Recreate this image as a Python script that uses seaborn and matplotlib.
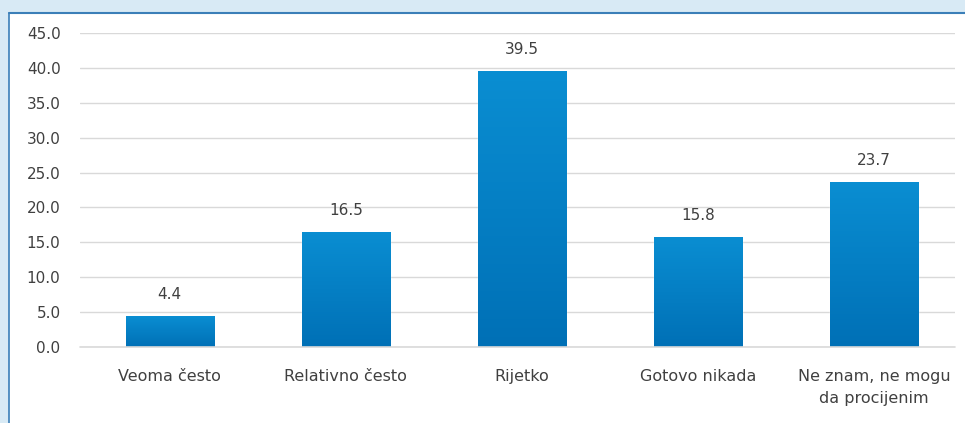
import matplotlib
matplotlib.use("Agg")
import matplotlib.pyplot as plt
import seaborn as sns
import pandas as pd
import numpy as np
from matplotlib.patches import Rectangle
from matplotlib.colors import LinearSegmentedColormap

categories = ["Veoma često", "Relativno često", "Rijetko", "Gotovo nikada", "Ne znam, ne mogu\nda procijenim"]
values = [4.4, 16.5, 39.5, 15.8, 23.7]
yticks = [0, 5, 10, 15, 20, 25, 30, 35, 40, 45]

sns.set_theme(style="white")
plt.rcParams['font.family'] = ['DejaVu Sans']

df = pd.DataFrame({"cat": categories, "val": values})

fig = plt.figure(figsize=(9.65, 4.23), dpi=100)
fig.patch.set_facecolor("#d8eaf5")

# white panel as background axes
px0 = 9 / 965
py1 = (423 - 13) / 423
bg = fig.add_axes([0, 0, 1, 1], zorder=-5)
bg.set_xlim(0, 1)
bg.set_ylim(0, 1)
bg.axis("off")
bg.add_patch(Rectangle((px0, 0), 1 - px0, py1, facecolor="white", edgecolor="none"))
bg.plot([px0, 1], [py1, py1], color="#3b7fb8", lw=1.5)
bg.plot([px0, px0], [0, py1], color="#3b7fb8", lw=1.2)

ax = fig.add_axes([80 / 965, (423 - 347) / 423, (955 - 80) / 965, (347 - 33) / 423])
ax.set_facecolor("none")
sns.barplot(data=df, x="cat", y="val", color="#047fc3", width=0.5, ax=ax,
            saturation=1, zorder=3)
ax.set_ylim(0, 45)
ax.set_xlim(-0.51, 4.46)

# vertical gradient fill on each bar
cmap = LinearSegmentedColormap.from_list("g", ["#0070b6", "#0a8ed2"])
grad = np.linspace(0, 1, 256).reshape(-1, 1)
for p in list(ax.patches):
    x0, y0 = p.get_x(), p.get_y()
    w, h = p.get_width(), p.get_height()
    im = ax.imshow(grad, cmap=cmap, aspect="auto", origin="lower",
                   extent=[x0, x0 + w, y0, y0 + h], zorder=4)
    im.set_clip_path(p)
ax.set_xlim(-0.51, 4.46)
ax.set_ylim(0, 45)

ax.set_yticks(yticks)
ax.set_yticklabels([f"{t:.1f}" for t in yticks])
ax.yaxis.grid(True, color="#d9d9d9", lw=1)
ax.axhline(0, color="#d9d9d9", lw=1.2, clip_on=False, zorder=5)
ax.set_axisbelow(True)
for s in ax.spines.values():
    s.set_visible(False)
ax.set_xlabel("")
ax.set_ylabel("")
ax.tick_params(axis="y", length=0, pad=14, labelsize=11, labelcolor="#404040")
ax.tick_params(axis="x", length=0, pad=16, labelsize=11.5, labelcolor="#404040")
for lab in ax.get_xticklabels():
    lab.set_linespacing(1.55)
    lab.set_verticalalignment("top")
for i, v in enumerate(values):
    ax.annotate(f"{v:.1f}", (i, v), xytext=(0, 10), textcoords="offset points",
                ha="center", va="bottom", fontsize=11, color="#404040")

fig.savefig("out.png", dpi=100, facecolor=fig.get_facecolor())
